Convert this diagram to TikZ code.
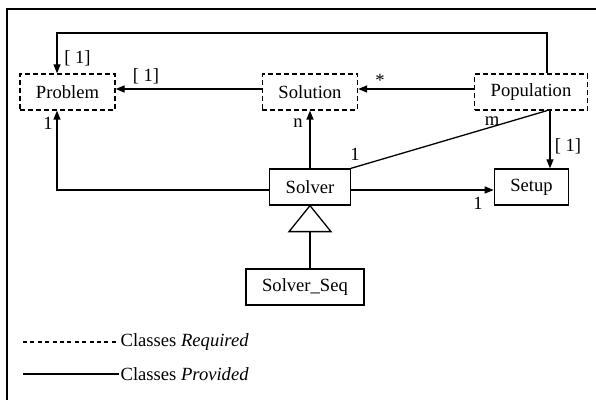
\documentclass[tikz,border=0pt]{standalone}
\usepackage{fontspec}
\setmainfont{Liberation Serif}
\usetikzlibrary{arrows.meta}

\tikzset{
  required/.style={draw, dash pattern=on 2.5pt off 1.5pt, inner xsep=8pt, minimum height=18pt},
  provided/.style={draw, inner xsep=8pt, minimum height=18pt},
  arr/.style={-{Triangle[length=4.5pt,width=3.5pt]}},
  mult/.style={inner sep=0pt}
}

\begin{document}
\begin{tikzpicture}[x=0.5pt, y=-0.5pt, line width=0.65pt, font=\fontsize{9.3}{11}\selectfont]
    \useasboundingbox (0,0) rectangle (596,400);
    \draw (7,400) -- (7,9) -- (596,9);

    % classes
    \node [required] (problem) at (67.5,92) {Problem};
    \node [required] (solution) at (310,92) {Solution};
    \node [required] (population) at (531,92) {Population};
    \node [provided] (solver) at (310,187) {Solver};
    \node [provided] (setup) at (531.5,187) {Setup};
    \node [provided] (solverseq) at (305,287) {Solver\_Seq};

    % associations
    \coordinate (loop) at (57,33);
    \draw [arr] ([xshift=8pt]population.north) |- (loop) -- (loop |- problem.north);
    \draw [arr] ([yshift=1.5pt]solution.west) -- ([yshift=1.5pt]problem.east);
    \draw [arr] ([yshift=1.5pt]population.west) -- ([yshift=1.5pt]solution.east);
    \draw [arr] (solver.north) -- (solution.south);
    \draw [arr] ([yshift=-1.5pt]solver.west) -| (loop |- problem.south);
    \draw (solver.north east) -- ([xshift=8pt]population.south);
    \draw [arr] ([xshift=9.5pt]population.south) -- ([xshift=9.5pt]population.south |- setup.north);
    \draw [arr] ([yshift=-1.5pt]solver.east) -- ([yshift=-1.5pt]setup.west);

    % inheritance
    \coordinate (base) at ([yshift=-13pt]solver.south);
    \draw (solver.south) -- ([xshift=-10.5pt]base) -- ([xshift=10.5pt]base) -- cycle;
    \draw (base) -- (base |- solverseq.north);

    % multiplicities
    \node [mult] at (77.5,58) {[ 1]};
    \node [mult] at (146,76) {[ 1]};
    \node [mult] at (380,80) {*};
    \node [mult] at (298,123) {n};
    \node [mult] at (48,123) {1};
    \node [mult] at (355,154) {1};
    \node [mult] at (492,121) {m};
    \node [mult] at (568,146) {[ 1]};
    \node [mult] at (478,203) {1};

    % legend
    \draw [dash pattern=on 2pt off 1.7pt] (23,342) -- (116,342) node [right, inner sep=2pt] {Classes \textit{Required}};
    \draw (23,374) -- (119,374) node [right, inner sep=0.5pt] {Classes \textit{Provided}};
\end{tikzpicture}
\end{document}
